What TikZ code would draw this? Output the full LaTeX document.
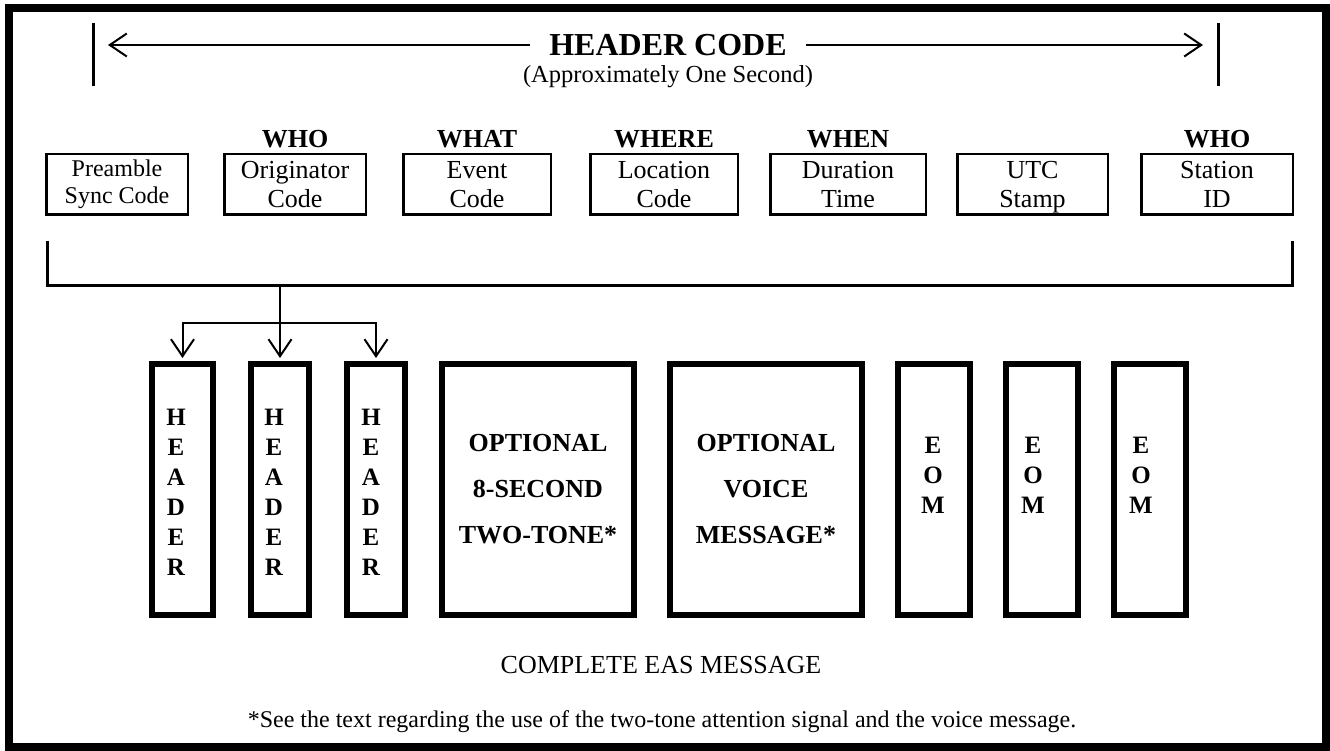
\documentclass[tikz,border=0pt]{standalone}
\usepackage{fontspec}
\setmainfont{Liberation Serif}
\usetikzlibrary{arrows.meta, positioning}

\begin{document}
\begin{tikzpicture}[x=1pt, y=-1pt,
  codebox/.style={draw, line width=2.5pt, minimum height=60.5pt, inner sep=0pt, align=center, font=\fontsize{26}{29}\selectfont},
  tallbox/.style={draw, line width=6pt, minimum height=251pt, inner sep=0pt, align=center, font=\fontsize{26}{46}\selectfont\bfseries},
  tag/.style={font=\fontsize{26}{30}\selectfont\bfseries, inner sep=0pt},
  letters/.style={font=\fontsize{25}{30}\selectfont\bfseries, align=center, inner sep=0pt},
  arr/.style={line width=2pt, -{Straight Barb[length=17pt, width=23pt]}}]
\useasboundingbox (0,0) rectangle (1330,751);
\draw[line width=8pt] (9,8) rectangle (1326,747);

%Header code span
\node[font=\fontsize{32}{36}\selectfont\bfseries, inner xsep=19pt] (hdr) at (668,45) {HEADER CODE};
\node[font=\fontsize{24.5}{28}\selectfont, inner sep=0pt] (approx) at (668,77) {(Approximately One Second)};
\coordinate (barl) at (93,23);
\coordinate (barr) at (1218,23);
\draw[line width=3pt] (barl) -- ++(0,63);
\draw[line width=3pt] (barr) -- ++(0,63);
\draw[arr, shorten >=15pt] (hdr.west) -- (barl |- hdr);
\draw[arr, shorten >=15pt] (hdr.east) -- (barr |- hdr);

%Header fields
\node[codebox, minimum width=141.5pt, font=\fontsize{24}{27}\selectfont] (sync) at (117,184.5) {Preamble\\Sync Code};
\node[codebox, minimum width=141.5pt] (orig) at (295,184.5) {Originator\\Code};
\node[codebox, minimum width=147.5pt] (event) at (477,184.5) {Event\\Code};
\node[codebox, minimum width=147.5pt] (loc) at (664,184.5) {Location\\Code};
\node[codebox, minimum width=155.5pt] (dur) at (848,184.5) {Duration\\Time};
\node[codebox, minimum width=150.5pt] (utc) at (1032.5,184.5) {UTC\\\smash{Stamp}};
\node[codebox, minimum width=151.5pt] (stn) at (1217,184.5) {Station\\ID};

\node[tag, above=5pt of orig] (who) {WHO};
\node[tag, above=5pt of event] (what) {WHAT};
\node[tag, above=5pt of loc] (where) {WHERE};
\node[tag, above=5pt of dur] (when) {WHEN};
\node[tag, above=5pt of stn] (whostn) {WHO};

%Bracket
\coordinate (brkl) at (47,241);
\coordinate (brkr) at (1292,241);
\draw[line width=3pt] (brkl) -- ++(0,45) -| (brkr);

%Complete message
\node[tallbox, minimum width=61pt] (hd1) at (182.5,489.5) {};
\node[tallbox, minimum width=58pt] (hd2) at (280,489.5) {};
\node[tallbox, minimum width=58pt] (hd3) at (376,489.5) {};
\node[tallbox, minimum width=192pt] (tone) at (538,489.5) {OPTIONAL\\8-SECOND\\TWO-TONE*};
\node[tallbox, minimum width=192pt] (voice) at (766,489.5) {OPTIONAL\\VOICE\\MESSAGE*};
\node[tallbox, minimum width=72pt] (eom1) at (934,489.5) {};
\node[tallbox, minimum width=72pt] (eom2) at (1042,489.5) {};
\node[tallbox, minimum width=72pt] (eom3) at (1150,489.5) {};

\node[letters] (hdt1) at (176,492) {H\\E\\A\\D\\E\\R};
\node[letters] (hdt2) at (274,492) {H\\E\\A\\D\\E\\R};
\node[letters] (hdt3) at (371,492) {H\\E\\A\\D\\E\\R};
\node[letters] (eomt1) at (933,475) {E\\O\\M};
\node[letters] (eomt2) at (1033,475) {E\\O\\M};
\node[letters] (eomt3) at (1141,475) {E\\O\\M};

%Header repeated three times
\coordinate (split) at (280,286);
\coordinate (fork) at (280,323);
\draw[arr, shorten >=3pt] (split) -- (hd2.north);
\draw[arr, shorten >=3pt] (fork) -| (hd1.north);
\draw[arr, shorten >=3pt] (fork) -| (hd3.north);

\node[font=\fontsize{26}{30}\selectfont] (complete) at (661,665) {COMPLETE EAS MESSAGE};
\node[font=\fontsize{24}{28}\selectfont] (note) at (662,722) {*See the text regarding the use of the two-tone attention signal and the voice message.};
\end{tikzpicture}
\end{document}
